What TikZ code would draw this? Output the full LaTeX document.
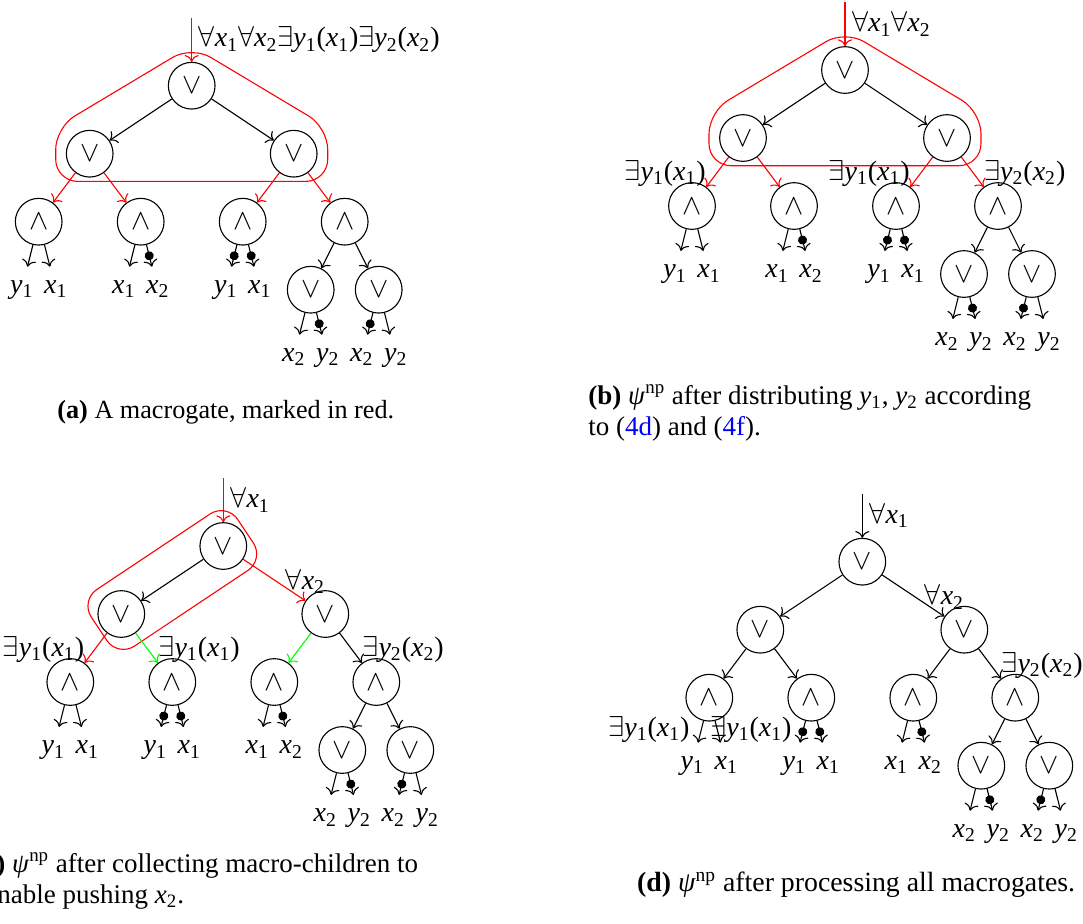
\documentclass[tikz,border=0pt]{standalone}
\usepackage{fontspec}
\setmainfont{Liberation Serif}
\usepackage{xcolor}
\usepackage{tikz}
\usetikzlibrary{arrows.meta}

\newcommand{\qv}[2]{\textit{#1}\textsubscript{#2}}
\newcommand{\qall}[1]{$\forall$\qv{x}{#1}}
\newcommand{\qex}[2]{$\exists$\qv{y}{#1}(\qv{x}{#2})}

% the nine gates of one tree, root at the scope origin
\newcommand{\gatetree}[1]{%
  \node[gate] (#10) at (0,0) {$\vee$};
  \node[gate] (#11) at (-102,68) {$\vee$};
  \node[gate] (#12) at (102,68) {$\vee$};
  \node[gate] (#111) at (-153,136) {$\wedge$};
  \node[gate] (#112) at (-51,136) {$\wedge$};
  \node[gate] (#121) at (51,136) {$\wedge$};
  \node[gate] (#122) at (153,136) {$\wedge$};
  \node[gate] (#1221) at (119,204) {$\vee$};
  \node[gate] (#1222) at (187,204) {$\vee$};
}

\tikzset{
  gate/.style={circle, draw, line width=0.55pt, minimum size=23.35pt, inner sep=0pt, font=\fontsize{13.5pt}{15pt}\selectfont},
  leaf/.style={circle, minimum size=23.35pt, inner sep=0pt, text height=1.2ex, text depth=0.4ex},
  wire/.style={-{To[scale=1.2]}, line width=0.55pt},
  nwire/.style={-{Circle[length=4.5pt] To[scale=1.2]}, line width=0.55pt},
  qlab/.style={inner sep=0pt, text=black},
  qtop/.style={text=black},
  mgate/.style={draw=red, line width=0.55pt, rounded corners=11pt},
  captxt/.style={inner sep=0pt, anchor=base west, font=\fontsize{13.5pt}{16.5pt}\selectfont},
}

\begin{document}
\begin{tikzpicture}[x=0.5pt,y=0.5pt,yscale=-1,xscale=1,font=\fontsize{14pt}{17pt}\selectfont]
\useasboundingbox (0,0) rectangle (1083,923);

% (a) the macrogate
\begin{scope}[shift={(191.7,85.7)}]
\draw[mgate] (0,95.7) -- (136,95.7) -- (136,41.7) -- (0,-39.7) -- (-136,41.7) -- (-136,95.7) -- cycle;
\gatetree{a}
\foreach \n/\x/\y/\va/\vb in {1/-170/204/y/1, 2/-136/204/x/1, 3/-68/204/x/1, 4/-34/204/x/2, 5/34/204/y/1, 6/68/204/x/1, 7/102/272/x/2, 8/136/272/y/2, 9/170/272/x/2, 10/204/272/y/2}
  \node[leaf] (al\n) at (\x,\y) {\qv{\va}{\vb}};
\coordinate (ain) at (0,-68);
\draw[wire, red] (ain) -- node[qtop, right] (aq) {\qall{1}\qall{2}\qex{1}{1}\qex{2}{2}} (a0);
\draw[wire] (a0) -- (a1);
\draw[wire] (a0) -- (a2);
\foreach \g/\ch in {1/11, 1/12, 2/21, 2/22}
  \draw[wire, red] (a\g) -- (a\ch);
\draw[wire] (a22) -- (a221);
\draw[wire] (a22) -- (a222);
\foreach \g/\n/\st in {11/1/wire, 11/2/wire, 12/3/wire, 12/4/nwire, 21/5/nwire, 21/6/nwire, 221/7/wire, 221/8/nwire, 222/9/nwire, 222/10/wire}
  \draw[\st] (a\g) -- (al\n);
\end{scope}

% (b) y1, y2 distributed
\begin{scope}[shift={(845,70)}]
\draw[mgate] (0,95.7) -- (136,95.7) -- (136,41.7) -- (0,-39.7) -- (-136,41.7) -- (-136,95.7) -- cycle;
\gatetree{b}
\foreach \n/\x/\y/\va/\vb in {1/-170/204/y/1, 2/-136/204/x/1, 3/-68/204/x/1, 4/-34/204/x/2, 5/34/204/y/1, 6/68/204/x/1, 7/102/272/x/2, 8/136/272/y/2, 9/170/272/x/2, 10/204/272/y/2}
  \node[leaf] (bl\n) at (\x,\y) {\qv{\va}{\vb}};
\coordinate (bin) at (0,-68);
\draw[wire, red] (bin) -- node[qtop, right] (bq) {\qall{1}\qall{2}} (b0);
\draw[wire] (b0) -- (b1);
\draw[wire] (b0) -- (b2);
\draw[wire, red] (b1) -- node[qlab, pos=1, anchor=south east] (bq1) {\qex{1}{1}} (b11);
\draw[wire, red] (b1) -- (b12);
\draw[wire, red] (b2) -- node[qlab, pos=1, anchor=south east] (bq2) {\qex{1}{1}} (b21);
\draw[wire, red] (b2) -- node[qlab, pos=1, anchor=south west] (bq3) {\qex{2}{2}} (b22);
\draw[wire] (b22) -- (b221);
\draw[wire] (b22) -- (b222);
\foreach \g/\n/\st in {11/1/wire, 11/2/wire, 12/3/wire, 12/4/nwire, 21/5/nwire, 21/6/nwire, 221/7/wire, 221/8/nwire, 222/9/nwire, 222/10/wire}
  \draw[\st] (b\g) -- (bl\n);
\end{scope}

% (c) macro-children collected
\begin{scope}[shift={(223.3,546)}]
\node[draw=red, line width=0.55pt, rounded corners=10pt, rotate=33.7, minimum width=88pt, minimum height=34pt] (cm) at (-51,34) {};
\gatetree{c}
\foreach \n/\x/\y/\va/\vb in {1/-170/204/y/1, 2/-136/204/x/1, 3/-68/204/y/1, 4/-34/204/x/1, 5/34/204/x/1, 6/68/204/x/2, 7/102/272/x/2, 8/136/272/y/2, 9/170/272/x/2, 10/204/272/y/2}
  \node[leaf] (cl\n) at (\x,\y) {\qv{\va}{\vb}};
\coordinate (cin) at (0,-68);
\draw[wire, red] (cin) -- node[qtop, right] (cq) {\qall{1}} (c0);
\draw[wire] (c0) -- (c1);
\draw[wire, red] (c0) -- node[qtop, pos=1, above] (cq1) {\qall{2}} (c2);
\draw[wire, red] (c1) -- node[qlab, pos=1, anchor=south east] (cq2) {\qex{1}{1}} (c11);
\draw[wire, green] (c1) -- node[qlab, pos=1, anchor=south west] (cq3) {\qex{1}{1}} (c12);
\draw[wire, green] (c2) -- (c21);
\draw[wire] (c2) -- node[qlab, pos=1, anchor=south west] (cq4) {\qex{2}{2}} (c22);
\draw[wire] (c22) -- (c221);
\draw[wire] (c22) -- (c222);
\foreach \g/\n/\st in {11/1/wire, 11/2/wire, 12/3/nwire, 12/4/nwire, 21/5/wire, 21/6/nwire, 221/7/wire, 221/8/nwire, 222/9/nwire, 222/10/wire}
  \draw[\st] (c\g) -- (cl\n);
\end{scope}

% (d) all macrogates processed
\begin{scope}[shift={(862.3,561.7)}]
\gatetree{d}
\foreach \n/\x/\y/\va/\vb in {1/-170/204/y/1, 2/-136/204/x/1, 3/-68/204/y/1, 4/-34/204/x/1, 5/34/204/x/1, 6/68/204/x/2, 7/102/272/x/2, 8/136/272/y/2, 9/170/272/x/2, 10/204/272/y/2}
  \node[leaf] (dl\n) at (\x,\y) {\qv{\va}{\vb}};
\coordinate (din) at (0,-68);
\draw[wire] (din) -- node[qtop, right] (dq) {\qall{1}} (d0);
\draw[wire] (d0) -- (d1);
\draw[wire] (d0) -- node[qtop, pos=1, above] (dq1) {\qall{2}} (d2);
\draw[wire] (d1) -- (d11);
\draw[wire] (d1) -- (d12);
\draw[wire] (d2) -- (d21);
\draw[wire] (d2) -- node[qlab, pos=1, anchor=south west] (dq2) {\qex{2}{2}} (d22);
\draw[wire] (d22) -- (d221);
\draw[wire] (d22) -- (d222);
\draw[wire] (d11) -- node[qlab, pos=1, anchor=south east, xshift=-4pt] (dq3) {\qex{1}{1}} (dl1);
\draw[nwire] (d12) -- node[qlab, pos=1, anchor=south east, xshift=-4pt] (dq4) {\qex{1}{1}} (dl3);
\foreach \g/\n/\st in {11/2/wire, 12/4/nwire, 21/5/wire, 21/6/nwire, 221/7/wire, 221/8/nwire, 222/9/nwire, 222/10/wire}
  \draw[\st] (d\g) -- (dl\n);
\end{scope}

% captions
\node[captxt, font=\fontsize{13.1pt}{16pt}\selectfont] (capa) at (57,418.3) {\textbf{(a)} A macrogate, marked in red.};
\node[captxt] (capb1) at (588,404.3) {\textbf{(b)} \textit{ψ}\textsuperscript{np} after distributing \qv{y}{1}, \qv{y}{2} according};
\node[captxt] (capb2) at (588,435) {to (\textcolor{blue}{4d}) and (\textcolor{blue}{4f}).};
\node[captxt] (capc1) at (-25,872.3) {\textbf{(c)} \textit{ψ}\textsuperscript{np} after collecting macro-children to};
\node[captxt] (capc2) at (-15,903.3) {enable pushing \qv{x}{2}.};
\node[captxt, font=\fontsize{13.9pt}{17pt}\selectfont] (capd) at (636.7,891.7) {\textbf{(d)} \textit{ψ}\textsuperscript{np} after processing all macrogates.};

\end{tikzpicture}
\end{document}
